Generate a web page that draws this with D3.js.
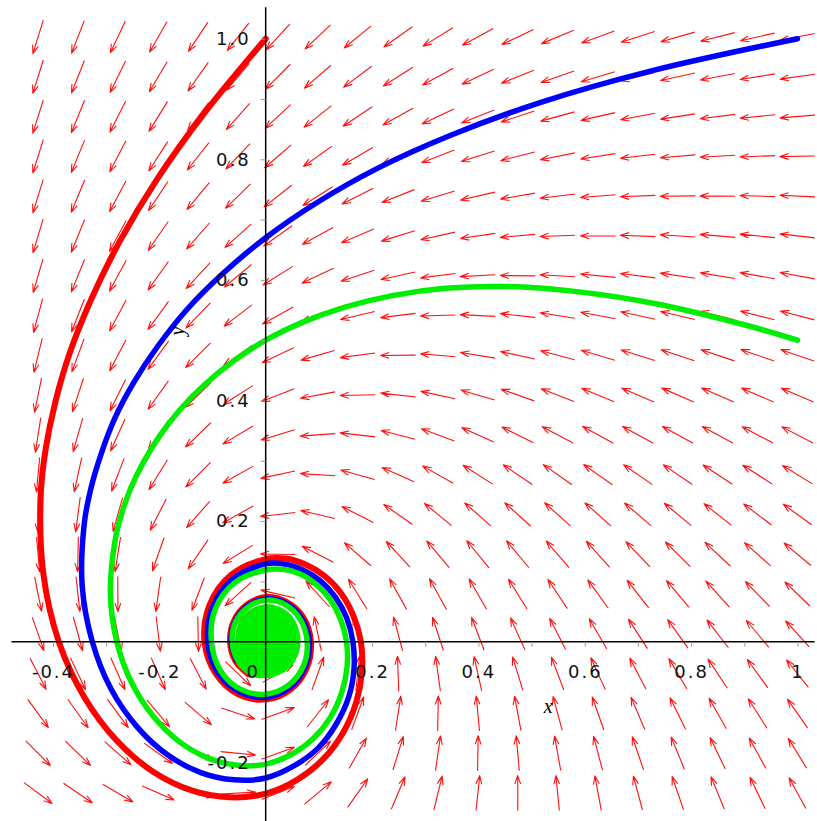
<!DOCTYPE html>
<html lang="en">
<head>
<meta charset="UTF-8">
<title>Phase portrait</title>
<style>
  html, body { margin: 0; padding: 0; background: #fff; }
  svg { display: block; }
  .lbl { font-family: "DejaVu Sans", sans-serif; font-size: 18px; letter-spacing: 2px; fill: #111; }
</style>
</head>
<body>
<div id="chart"></div>
<script src="https://cdnjs.cloudflare.com/ajax/libs/d3/7.8.5/d3.min.js"></script>
<script>
// grid of the direction field (arrow centres)
const arrowXs = [-0.428, -0.353, -0.278, -0.202, -0.127, -0.052, 0.023, 0.098, 0.173, 0.249,
                 0.324, 0.399, 0.474, 0.549, 0.625, 0.700, 0.775, 0.850, 0.925, 1.000];
const arrowYs = [-0.251, -0.185, -0.119, -0.053, 0.013, 0.079, 0.145, 0.211, 0.277, 0.343,
                 0.409, 0.475, 0.541, 0.607, 0.673, 0.739, 0.805, 0.871, 0.937, 1.003];

// system: x' = -y - x*r , y' = x - y*r
function field(px, py) {
  const r = Math.sqrt(px * px + py * py);
  return [-py - px * r, px - py * r];
}

// trajectories
const redPath = [
  [0.000, 1.000], [-0.115, 0.877], [-0.205, 0.766], [-0.275, 0.663], [-0.328, 0.568],
  [-0.368, 0.480], [-0.396, 0.396], [-0.414, 0.318], [-0.423, 0.244], [-0.418, 0.112],
  [-0.389, 0.000], [-0.341, -0.092], [-0.280, -0.164], [-0.211, -0.216], [-0.138, -0.247],
  [-0.067, -0.258], [0.000, -0.252], [0.059, -0.229], [0.109, -0.194], [0.146, -0.150],
  [0.170, -0.101], [0.181, -0.050], [0.179, 0.000], [0.165, 0.043], [0.142, 0.080],
  [0.111, 0.109], [0.075, 0.128], [0.038, 0.138], [0.000, 0.137], [-0.065, 0.111],
  [-0.106, 0.060], [-0.115, 0.000], [-0.094, -0.053], [-0.052, -0.087], [0.000, -0.096],
  [0.047, -0.079], [0.077, -0.044], [0.085, 0.000], [0.071, 0.040], [0.039, 0.066],
  [0.000, 0.074], [-0.036, 0.061], [-0.060, 0.034], [-0.067, 0.000], [-0.057, -0.032],
  [-0.032, -0.054]
];
const bluePath = [
  [1.000, 1.000], [0.727, 0.947], [0.516, 0.894], [0.348, 0.840], [0.210, 0.785],
  [0.096, 0.728], [0.000, 0.670], [-0.080, 0.611], [-0.148, 0.551], [-0.203, 0.490],
  [-0.248, 0.430], [-0.284, 0.370], [-0.310, 0.310], [-0.329, 0.253], [-0.341, 0.197],
  [-0.345, 0.092], [-0.326, 0.000], [-0.291, -0.078], [-0.241, -0.142], [-0.184, -0.188],
  [-0.122, -0.217], [-0.059, -0.229], [0.000, -0.226], [0.053, -0.206], [0.099, -0.176],
  [0.133, -0.136], [0.156, -0.092], [0.166, -0.046], [0.164, 0.000], [0.152, 0.040],
  [0.131, 0.074], [0.103, 0.101], [0.070, 0.119], [0.035, 0.129], [0.000, 0.129],
  [-0.062, 0.104], [-0.100, 0.057], [-0.109, 0.000], [-0.090, -0.051], [-0.049, -0.083],
  [0.000, -0.092], [0.045, -0.076], [0.074, -0.042], [0.082, 0.000], [0.068, 0.038],
  [0.038, 0.064], [0.000, 0.071], [-0.035, 0.059], [-0.058, 0.033], [-0.065, 0.000],
  [-0.055, -0.031]
];
const greenPath = [
  [1.000, 0.500], [0.907, 0.524], [0.731, 0.561], [0.581, 0.581], [0.452, 0.589],
  [0.338, 0.586], [0.238, 0.574], [0.149, 0.555], [0.070, 0.530], [0.000, 0.500],
  [-0.061, 0.465], [-0.114, 0.427], [-0.160, 0.386], [-0.198, 0.343], [-0.229, 0.299],
  [-0.254, 0.254], [-0.272, 0.209], [-0.284, 0.164], [-0.292, 0.078], [-0.280, 0.000],
  [-0.252, -0.068], [-0.211, -0.124], [-0.162, -0.166], [-0.108, -0.193], [-0.053, -0.205],
  [0.000, -0.203], [0.048, -0.187], [0.090, -0.160], [0.122, -0.125], [0.143, -0.084],
  [0.153, -0.042], [0.152, 0.000], [0.141, 0.037], [0.122, 0.069], [0.096, 0.094],
  [0.066, 0.112], [0.033, 0.120], [0.000, 0.119], [-0.058, 0.098], [-0.095, 0.054],
  [-0.102, 0.000], [-0.085, -0.048], [-0.047, -0.079], [0.000, -0.087], [0.043, -0.072],
  [0.071, -0.040], [0.078, 0.000], [0.065, 0.037], [0.036, 0.062], [0.000, 0.069],
  [-0.034, 0.057], [-0.057, 0.032], [-0.063, 0.000], [-0.053, -0.030], [-0.030, -0.051],
  [0.000, -0.056], [0.028, -0.048], [0.047, -0.027], [0.053, 0.000]
];
// tightly wound end of the green curve, seen as a solid disc
const greenCore = [
  [0.064, 0.000], [0.046, 0.044], [0.002, 0.061], [-0.042, 0.042],
  [-0.056, 0.000], [-0.040, -0.040], [0.002, -0.056], [0.045, -0.042]
];

// ticks
const xMinor = [-0.4, -0.3, -0.2, -0.1, 0.1, 0.2, 0.3, 0.4, 0.5, 0.6, 0.7, 0.8, 0.9, 1.0];
const yMinor = [-0.2, -0.1, 0.1, 0.2, 0.3, 0.4, 0.5, 0.6, 0.7, 0.8, 0.9, 1.0];
const xLabelVals = [-0.4, -0.2, 0, 0.2, 0.4, 0.6, 0.8, 1];
const xLabelText = ["-0.4", "-0.2", "0", "0.2", "0.4", "0.6", "0.8", "1"];
const yLabelVals = [-0.2, 0.2, 0.4, 0.6, 0.8, 1.0];
const yLabelText = ["-0.2", "0.2", "0.4", "0.6", "0.8", "1.0"];

const W = 817, H = 821;
const x = d3.scaleLinear().domain([-0.4808, 1.0367]).range([10, W]);
const y = d3.scaleLinear().domain([-0.2973, 1.0642]).range([H, 0]);

const svg = d3.select('#chart').append('svg')
  .attr('width', W).attr('height', H)
  .style('background', '#fff');

// direction field
const kx = x(1) - x(0), ky = y(0) - y(1);
const half = 17.5, headLen = 9, headAng = 0.33;
function arrowPath(d) {
  const [u, v] = field(d[0], d[1]);
  let ax = u * kx, ay = -v * ky;
  const n = Math.hypot(ax, ay) || 1;
  ax /= n; ay /= n;
  const cx = x(d[0]), cy = y(d[1]);
  const tx = cx + ax * half, ty = cy + ay * half;
  const bx = cx - ax * half, by = cy - ay * half;
  const ang = Math.atan2(ay, ax) + Math.PI;
  const h1x = tx + headLen * Math.cos(ang + headAng), h1y = ty + headLen * Math.sin(ang + headAng);
  const h2x = tx + headLen * Math.cos(ang - headAng), h2y = ty + headLen * Math.sin(ang - headAng);
  return `M${bx},${by}L${tx},${ty}M${h1x},${h1y}L${tx},${ty}L${h2x},${h2y}`;
}
svg.append('g')
  .selectAll('path')
  .data(d3.cross(arrowXs, arrowYs))
  .join('path')
  .attr('d', arrowPath)
  .attr('fill', 'none')
  .attr('stroke', '#ff1010')
  .attr('stroke-width', 1.1)
  .attr('stroke-linejoin', 'round');

// trajectories
const line = d3.line().x(d => x(d[0])).y(d => y(d[1])).curve(d3.curveCatmullRom.alpha(0.5));
const curves = [
  { pts: redPath, color: '#ff0000', w: 6 },
  { pts: bluePath, color: '#0000ff', w: 5.5 },
  { pts: greenPath, color: '#00ee00', w: 5.5 }
];
svg.append('g')
  .selectAll('path')
  .data(curves)
  .join('path')
  .attr('d', d => line(d.pts))
  .attr('fill', 'none')
  .attr('stroke', d => d.color)
  .attr('stroke-width', d => d.w)
  .attr('stroke-linecap', 'round')
  .attr('stroke-linejoin', 'round');

svg.append('path')
  .attr('d', d3.line().x(d => x(d[0])).y(d => y(d[1])).curve(d3.curveCardinalClosed)(greenCore))
  .attr('fill', '#00ee00')
  .attr('stroke', '#00ee00')
  .attr('stroke-width', 2);

// axes
const axes = svg.append('g');
axes.append('line')
  .attr('x1', x(-0.478)).attr('x2', x(1.032))
  .attr('y1', y(0)).attr('y2', y(0))
  .attr('stroke', '#000').attr('stroke-width', 1.5);
axes.append('line')
  .attr('x1', x(0)).attr('x2', x(0))
  .attr('y1', y(1.052)).attr('y2', H)
  .attr('stroke', '#000').attr('stroke-width', 1.5);

const gx = axes.append('g').attr('transform', `translate(0,${y(0)})`);
gx.append('g').call(d3.axisBottom(x).tickValues(xMinor).tickSize(5).tickFormat(''));
gx.append('g').call(d3.axisBottom(x).tickValues(xLabelVals).tickSize(0).tickPadding(23.5)
  .tickFormat((d, i) => xLabelText[i]));
const gy = axes.append('g').attr('transform', `translate(${x(0)},0)`);
gy.append('g').call(d3.axisLeft(y).tickValues(yMinor).tickSize(5).tickFormat(''));
gy.append('g').call(d3.axisLeft(y).tickValues(yLabelVals).tickSize(0).tickPadding(15)
  .tickFormat((d, i) => yLabelText[i]));

axes.selectAll('.domain').remove();
axes.selectAll('.tick line').attr('stroke', '#999');
axes.selectAll('.tick text')
  .attr('class', 'lbl')
  .attr('font-family', null).attr('font-size', null);
gx.selectAll('.tick text').filter(d => d === 0).attr('dx', -13);

// axis titles
svg.append('text')
  .attr('x', x(0.531)).attr('y', y(0) + 71)
  .attr('text-anchor', 'middle')
  .style('font-family', '"Liberation Serif", serif')
  .style('font-style', 'italic')
  .style('font-size', '20px')
  .text('x');
svg.append('text')
  .attr('transform', `translate(${x(-0.165)},${y(0.515)}) rotate(-90)`)
  .attr('text-anchor', 'middle')
  .attr('dy', '0.3em')
  .style('font-family', '"Liberation Serif", serif')
  .style('font-style', 'italic')
  .style('font-size', '20px')
  .text('y');
</script>
</body>
</html>
